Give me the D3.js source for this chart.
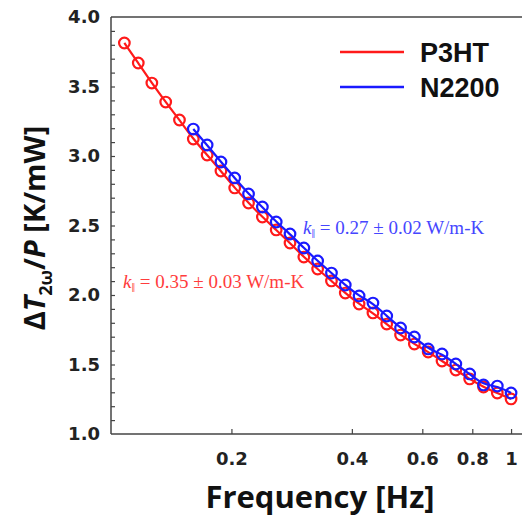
<!DOCTYPE html>
<html>
<head>
<meta charset="utf-8">
<script src="https://cdn.jsdelivr.net/npm/d3@7"></script>
<style>
  body { margin: 0; background: #fff; }
  svg { display: block; }
</style>
</head>
<body>
<div id="chart"></div>
<script>
// frequency points (Hz), shared by both samples; N2200 starts at the 6th point
const freq = [0.108, 0.117, 0.1265, 0.137, 0.1483, 0.1606, 0.1739, 0.1883, 0.2038, 0.2207,
  0.239, 0.2588, 0.2802, 0.3034, 0.3285, 0.3557, 0.3851, 0.417, 0.4516, 0.4889,
  0.5294, 0.5732, 0.6207, 0.6721, 0.7277, 0.788, 0.8533, 0.9239, 1.0];

const p3ht = [3.813, 3.669, 3.525, 3.388, 3.259, 3.122, 3.007, 2.892, 2.770, 2.662,
  2.561, 2.468, 2.374, 2.273, 2.187, 2.101, 2.014, 1.935, 1.871, 1.791,
  1.712, 1.647, 1.590, 1.525, 1.460, 1.396, 1.338, 1.295, 1.252];

const n2200 = [3.194, 3.079, 2.957, 2.842, 2.727,
  2.633, 2.525, 2.439, 2.338, 2.245, 2.158, 2.072, 1.993, 1.942, 1.849,
  1.763, 1.698, 1.612, 1.576, 1.504, 1.432, 1.353, 1.345, 1.295];

const xTicks = [0.2, 0.4, 0.6, 0.8, 1];
const yTicks = [1.0, 1.5, 2.0, 2.5, 3.0, 3.5, 4.0];

const seriesNames = ["P3HT", "N2200"];
const colors = ["#ff1a1a", "#1a1aff"];
const notes = ["k‖ = 0.35 ± 0.03 W/m-K", "k‖ = 0.27 ± 0.02 W/m-K"];

const width = 522, height = 523;
const margin = {top: 17, right: 0, bottom: 89, left: 111};

const svg = d3.select("#chart").append("svg")
  .attr("width", width)
  .attr("height", height);

const x = d3.scaleLog()
  .domain([0.1, 1.065])
  .range([margin.left, width - margin.right]);

const y = d3.scaleLinear()
  .domain([1, 4])
  .range([height - margin.bottom, margin.top]);

const axisColor = "#444";
const tickFont = "'DejaVu Sans', sans-serif";

// frame: bottom, left, top
svg.append("line").attr("x1", x.range()[0]).attr("x2", x.range()[1])
  .attr("y1", y(1)).attr("y2", y(1)).attr("stroke", axisColor).attr("stroke-width", 1.5);
svg.append("line").attr("x1", x.range()[0]).attr("x2", x.range()[1])
  .attr("y1", y(4)).attr("y2", y(4)).attr("stroke", axisColor).attr("stroke-width", 1.5);
svg.append("line").attr("x1", x(0.1)).attr("x2", x(0.1))
  .attr("y1", y(1)).attr("y2", y(4)).attr("stroke", axisColor).attr("stroke-width", 1.5);

// x axis (ticks point inward)
const xAxis = svg.append("g")
  .attr("transform", `translate(0,${y(1)})`)
  .call(d3.axisBottom(x).tickValues(xTicks).tickSize(-5).tickPadding(18)
    .tickFormat(d => d === 1 ? "1" : d3.format(".1f")(d)));
xAxis.select(".domain").remove();
xAxis.selectAll("line").attr("stroke", axisColor).attr("stroke-width", 1.2);
xAxis.selectAll("text")
  .attr("font-family", tickFont).attr("font-weight", "bold")
  .attr("font-size", 18).attr("fill", "#222");

// y axis: minor ticks every 0.1, labels every 0.5
const yMinor = d3.range(11, 40).map(v => v / 10);
const yAxisMinor = svg.append("g")
  .attr("transform", `translate(${x(0.1)},0)`)
  .call(d3.axisLeft(y).tickValues(yMinor).tickSize(-4).tickFormat(""));
yAxisMinor.select(".domain").remove();
yAxisMinor.selectAll("line").attr("stroke", axisColor).attr("stroke-width", 1.2);

const yAxis = svg.append("g")
  .attr("transform", `translate(${x(0.1)},0)`)
  .call(d3.axisLeft(y).tickValues(yTicks).tickSize(0).tickPadding(11)
    .tickFormat(d3.format(".1f")));
yAxis.select(".domain").remove();
yAxis.selectAll("text")
  .attr("font-family", tickFont).attr("font-weight", "bold")
  .attr("font-size", 18).attr("fill", "#222");

// series
const series = [
  {name: seriesNames[0], color: colors[0], pts: freq.map((f, i) => [f, p3ht[i]])},
  {name: seriesNames[1], color: colors[1], pts: freq.slice(freq.length - n2200.length).map((f, i) => [f, n2200[i]])}
];

const line = d3.line()
  .x(d => x(d[0]))
  .y(d => y(d[1]))
  .curve(d3.curveBasis);

series.forEach(s => {
  svg.append("path")
    .datum(s.pts)
    .attr("fill", "none")
    .attr("stroke", s.color)
    .attr("stroke-width", 2.2)
    .attr("d", line);
  svg.append("g").selectAll("circle")
    .data(s.pts)
    .join("circle")
    .attr("cx", d => x(d[0]))
    .attr("cy", d => y(d[1]))
    .attr("r", 5.3)
    .attr("fill", "none")
    .attr("stroke", s.color)
    .attr("stroke-width", 2.2);
});

// legend
const legend = svg.append("g");
series.forEach((s, i) => {
  const ly = 52 + i * 35;
  legend.append("line")
    .attr("x1", 340).attr("x2", 404).attr("y1", ly).attr("y2", ly)
    .attr("stroke", s.color).attr("stroke-width", 2.5);
  legend.append("text")
    .attr("x", 420).attr("y", ly + 10)
    .attr("font-family", "'Liberation Sans', Arial, sans-serif")
    .attr("font-weight", "bold").attr("font-size", 27)
    .attr("fill", "#111")
    .text(s.name);
});

// annotations
const noteColors = ["#ff3c3c", "#4646ff"];
const notePos = [[123, 288], [303, 234]];
notes.forEach((t, i) => {
  const tx = svg.append("text")
    .attr("x", notePos[i][0]).attr("y", notePos[i][1])
    .attr("font-family", "'Liberation Serif', 'Times New Roman', serif")
    .attr("font-size", 19).attr("fill", noteColors[i]);
  tx.append("tspan").attr("font-style", "italic").text("k");
  tx.append("tspan").attr("font-size", 13).attr("dy", 4).text("‖");
  tx.append("tspan").attr("dy", -4).text(t.slice(2));
});

// axis titles
const titleFont = "'Open Sans', sans-serif";
svg.append("text")
  .attr("x", 320).attr("y", 508)
  .attr("text-anchor", "middle")
  .attr("font-family", titleFont).attr("font-weight", "bold")
  .attr("font-size", 31).attr("fill", "#111")
  .text("Frequency [Hz]");

const yl = svg.append("text")
  .attr("transform", "translate(45,228) rotate(-90)")
  .attr("text-anchor", "middle")
  .attr("font-family", titleFont).attr("font-weight", "bold")
  .attr("font-size", 29).attr("fill", "#111");
yl.append("tspan").text("Δ");
yl.append("tspan").attr("font-style", "italic").text("T");
yl.append("tspan").attr("font-size", 18).attr("dy", 7).text("2ω");
yl.append("tspan").attr("dy", -7).text("/");
yl.append("tspan").attr("font-style", "italic").text("P");
yl.append("tspan").text(" [K/mW]");
</script>
</body>
</html>
